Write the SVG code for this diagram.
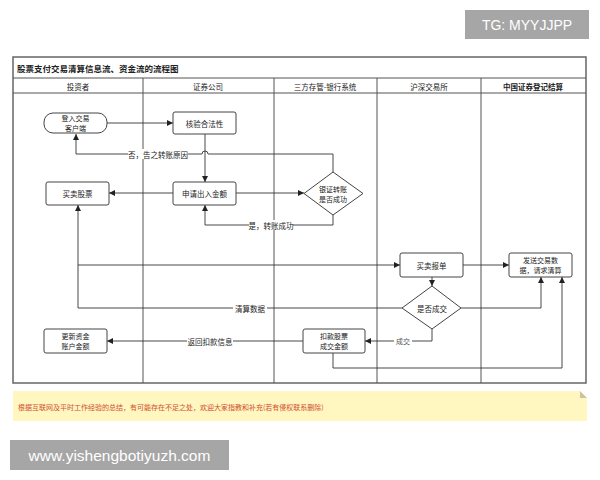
<svg xmlns="http://www.w3.org/2000/svg" width="600" height="480" viewBox="0 0 600 480">
<style>
.t{font-family:"Noto Sans CJK SC","Noto Sans",sans-serif;fill:#222;font-size:7.5px;text-anchor:middle;dominant-baseline:central}
.b{font-weight:bold}
.node{fill:#fff;stroke:#444;stroke-width:1}
.lane{stroke:#555;stroke-width:1;fill:none}
.c{fill:none;stroke:#333;stroke-width:0.9;marker-end:url(#ah)}
.lbl{fill:#fff}
</style>
<defs>
<marker id="ah" viewBox="0 0 10 10" refX="10" refY="5" markerWidth="6" markerHeight="6" markerUnits="userSpaceOnUse" orient="auto">
<path d="M0,0 L10,5 L0,10 z" fill="#222"/>
</marker>
</defs>
<rect width="600" height="480" fill="#fff"/>
<g id="watermark-tg">
<rect x="465" y="10" width="124" height="29" fill="#a6a6a6"/>
<text x="527" y="25" style="font-family:'Liberation Sans',Arial,sans-serif;font-size:14px;fill:#fff;text-anchor:middle;dominant-baseline:central">TG: MYYJJPP</text>
</g>
<g id="frame">
<rect x="13" y="57" width="573" height="326" fill="#fff" stroke="#666" stroke-width="1.5"/>
<line class="lane" x1="13" y1="78" x2="586" y2="78"/>
<line class="lane" x1="13" y1="93" x2="586" y2="93"/>
<line class="lane" x1="143" y1="78" x2="143" y2="383"/>
<line class="lane" x1="274" y1="78" x2="274" y2="383"/>
<line class="lane" x1="377" y1="78" x2="377" y2="383"/>
<line class="lane" x1="481" y1="78" x2="481" y2="383"/>
<text class="t b" x="17" y="68" style="text-anchor:start;font-size:8.5px">股票支付交易清算信息流、资金流的流程图</text>
<text class="t" x="78" y="86">投资者</text>
<text class="t" x="208" y="86">证券公司</text>
<text class="t" x="325" y="86">三方存管-银行系统</text>
<text class="t" x="429" y="86">沪深交易所</text>
<text class="t b" x="533" y="86">中国证券登记结算</text>
</g>
<g id="connectors">
<path class="c" d="M107,123 H173"/>
<path class="c" d="M205,134 V182"/>
<path class="c" d="M333,172 V154 H208 A3,3 0 0 0 202,154 H76 V134"/>
<rect class="lbl" x="128" y="149" width="60" height="10"/>
<text class="t" x="158" y="154">否，告之转账原因</text>
<path class="c" d="M173,193 H109"/>
<path class="c" d="M236,193 H304"/>
<path class="c" d="M333,215 V225 H205 V205"/>
<rect class="lbl" x="249" y="220" width="44" height="10"/>
<text class="t" x="271" y="225">是，转账成功</text>
<path class="c" d="M402,308 H78 V205"/>
<rect class="lbl" x="233" y="303" width="34" height="10"/>
<text class="t" x="250" y="308">清算数据</text>
<path class="c" d="M78,265 H400"/>
<path class="c" d="M463,265 H509"/>
<path class="c" d="M432,277 V286"/>
<path class="c" d="M461,308 H541 V277"/>
<path class="c" d="M432,329 V341 H365"/>
<rect class="lbl" x="394" y="336" width="18" height="10"/>
<text class="t" x="403" y="341" style="font-family:'Liberation Sans','Noto Sans CJK SC',sans-serif;font-size:7px;fill:#555">成交</text>
<path class="c" d="M303,341 H107"/>
<rect class="lbl" x="187" y="336" width="46" height="10"/>
<text class="t" x="210" y="341">返回扣款信息</text>
<path class="c" d="M333,353 V368 H562 V277"/>
</g>
<g id="n-login">
<rect class="node" x="44" y="113" width="63" height="20" rx="9"/>
<text class="t" x="75.5" y="118" style="font-size:7px">登入交易</text>
<text class="t" x="75.5" y="128" style="font-size:7px">客户端</text>
</g>
<g id="n-verify">
<rect class="node" x="173" y="112" width="63" height="22" rx="2"/>
<text class="t" x="204.5" y="123">核验合法性</text>
</g>
<g id="n-trade">
<rect class="node" x="46" y="182" width="63" height="23" rx="2"/>
<text class="t" x="77.5" y="193.5">买卖股票</text>
</g>
<g id="n-apply">
<rect class="node" x="173" y="182" width="63" height="23" rx="2"/>
<text class="t" x="204.5" y="193.5">申请出入金额</text>
</g>
<g id="n-bank">
<path class="node" d="M333,172 L363,193.5 L333,215 L304,193.5 z"/>
<text class="t" x="333" y="188.5" style="font-size:7px">银证转账</text>
<text class="t" x="333" y="198.5" style="font-size:7px">是否成功</text>
</g>
<g id="n-order">
<rect class="node" x="400" y="253" width="63" height="24" rx="2"/>
<text class="t" x="431.5" y="265">买卖报单</text>
</g>
<g id="n-send">
<rect class="node" x="509" y="253" width="63" height="24" rx="2"/>
<text class="t" x="540.5" y="260" style="font-size:7px">发送交易数</text>
<text class="t" x="540.5" y="270" style="font-size:7px">据，请求清算</text>
</g>
<g id="n-deal">
<path class="node" d="M432,286 L461,308 L432,329 L402,308 z"/>
<text class="t" x="432" y="308">是否成交</text>
</g>
<g id="n-deduct">
<rect class="node" x="303" y="329" width="62" height="24" rx="2"/>
<text class="t" x="334" y="336" style="font-size:7px">扣款股票</text>
<text class="t" x="334" y="346" style="font-size:7px">成交金额</text>
</g>
<g id="n-update">
<rect class="node" x="44" y="329" width="63" height="24" rx="2"/>
<text class="t" x="75.5" y="336" style="font-size:7px">更新资金</text>
<text class="t" x="75.5" y="346" style="font-size:7px">账户金额</text>
</g>
<g id="note">
<path d="M13,391 H580 L587,398 V421 H13 z" fill="#fff6c0"/>
<path d="M580,391 L587,398 H580 z" fill="#c9c4a0"/>
<text class="t" x="18" y="407" style="text-anchor:start;font-size:7px;fill:#d0502f">根据互联网及平时工作经验的总结，有可能存在不足之处，欢迎大家指教和补充(若有侵权联系删除)</text>
</g>
<g id="watermark-site">
<rect x="10" y="440" width="219" height="30" fill="#a6a6a6"/>
<text x="119.5" y="455.5" style="font-family:'Liberation Sans',Arial,sans-serif;font-size:15.5px;fill:#fff;text-anchor:middle;dominant-baseline:central">www.yishengbotiyuzh.com</text>
</g>
</svg>
